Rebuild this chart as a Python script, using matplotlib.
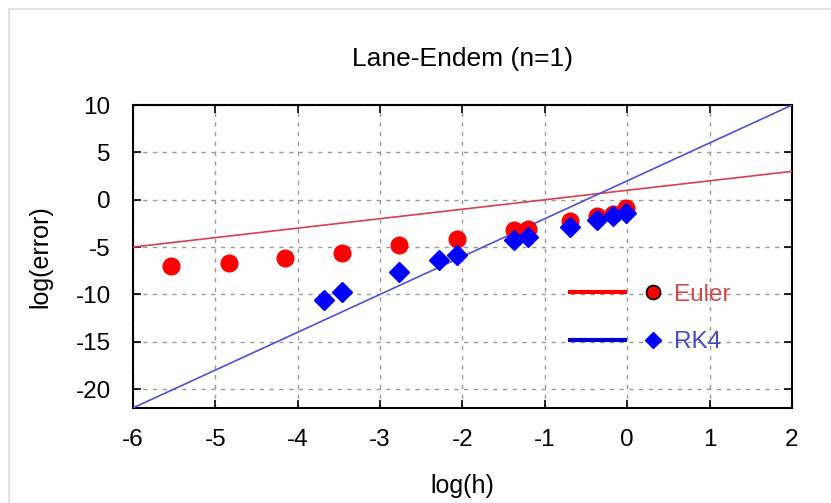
import numpy as np
import matplotlib
matplotlib.use("Agg")
import matplotlib.pyplot as plt
from matplotlib.lines import Line2D
from matplotlib.legend_handler import HandlerBase

plt.rcParams['font.family'] = ['Liberation Sans', 'DejaVu Sans']
plt.rcParams['axes.unicode_minus'] = False

# data
log_h_euler = [-5.54, -4.83, -4.15, -3.46, -2.77, -2.07, -1.38, -1.20, -0.69, -0.37, -0.17, -0.02]
log_err_euler = [-7.05, -6.64, -6.15, -5.65, -4.77, -4.15, -3.15, -3.05, -2.2, -1.7, -1.5, -0.85]

log_h_rk4 = [-3.68, -3.46, -2.77, -2.29, -2.07, -1.38, -1.20, -0.69, -0.37, -0.17, -0.02]
log_err_rk4 = [-10.6, -9.8, -7.6, -6.4, -5.8, -4.25, -3.9, -2.85, -2.15, -1.7, -1.45]

# fitted lines: slope, intercept
euler_fit = (1.0, 1.0)
rk4_fit = (4.0, 2.0)
x_fit = np.array([-6.0, 2.0])

x_ticks = [-6, -5, -4, -3, -2, -1, 0, 1, 2]
y_ticks = [10, 5, 0, -5, -10, -15, -20]


class LineThenMarker(HandlerBase):
    # line on the left, marker to the right of it
    def __init__(self, line_kw, marker_kw):
        super().__init__()
        self.line_kw = line_kw
        self.marker_kw = marker_kw

    def create_artists(self, legend, orig_handle, xdescent, ydescent,
                       width, height, fontsize, trans):
        y = height / 2 - ydescent
        ln = Line2D([-xdescent, -xdescent + 0.6 * width], [y, y], **self.line_kw)
        mk = Line2D([-xdescent + 0.9 * width], [y], linestyle='none', **self.marker_kw)
        ln.set_transform(trans)
        mk.set_transform(trans)
        return [ln, mk]


fig = plt.figure(figsize=(8.31, 5.03), dpi=100)
ax = fig.add_axes([0.160, 0.189, 0.793, 0.602])

ax.plot(x_fit, euler_fit[0] * x_fit + euler_fit[1], color='#d84050', lw=1.2, zorder=3)
ax.plot(x_fit, rk4_fit[0] * x_fit + rk4_fit[1], color='#5050d8', lw=1.2, zorder=3)
ax.plot(log_h_euler, log_err_euler, 'o', color='#ff0000', ms=12, mec='#ff0000', zorder=4)
ax.plot(log_h_rk4, log_err_rk4, 'D', color='#0000ff', ms=10.5, mec='#0000ff', zorder=5)

ax.set_xlim(-6, 2)
ax.set_ylim(-22, 10)
ax.set_xticks(x_ticks)
ax.set_yticks(y_ticks)
ax.tick_params(direction='in', length=6, width=1.2, top=True, right=True,
               labelsize=17.5, colors='black')
ax.tick_params(axis='x', pad=15)
ax.tick_params(axis='y', pad=16)
ax.grid(True, color='#999999', lw=1, linestyle=(0, (3, 4)))
for s in ax.spines.values():
    s.set_linewidth(1.5)

ax.set_title('Lane-Endem (n=1)', fontsize=19, pad=28)
ax.set_xlabel('log(h)', fontsize=18, labelpad=17)
ax.set_ylabel('log(error)', fontsize=18, labelpad=17)

h_euler = Line2D([], [], color='#ff0000')
h_rk4 = Line2D([], [], color='#0000cc')
leg = ax.legend(
    [h_euler, h_rk4], ['Euler', 'RK4'],
    handler_map={
        h_euler: LineThenMarker(dict(color='#ff0000', lw=3),
                                dict(marker='o', ms=10, mfc='#ff0000', mec='black', mew=1.3)),
        h_rk4: LineThenMarker(dict(color='#0000cc', lw=3),
                              dict(marker='D', ms=8, mfc='#0000ff', mec='#0000ff')),
    },
    loc='center left', bbox_to_anchor=(0.663, 0.295), frameon=False,
    fontsize=17.5, handlelength=3.8, handletextpad=0.5, labelspacing=1.05,
    borderpad=0, borderaxespad=0)
leg.get_texts()[0].set_color('#d04848')
leg.get_texts()[1].set_color('#4848c8')

# light frame on top and left of the picture
fig.add_artist(Line2D([9 / 831, 9 / 831], [0, 1 - 9 / 503], color='#dddddd', lw=1.2))
fig.add_artist(Line2D([9 / 831, 1], [1 - 9 / 503, 1 - 9 / 503], color='#dddddd', lw=1.2))

fig.savefig('out.png', dpi=100)
